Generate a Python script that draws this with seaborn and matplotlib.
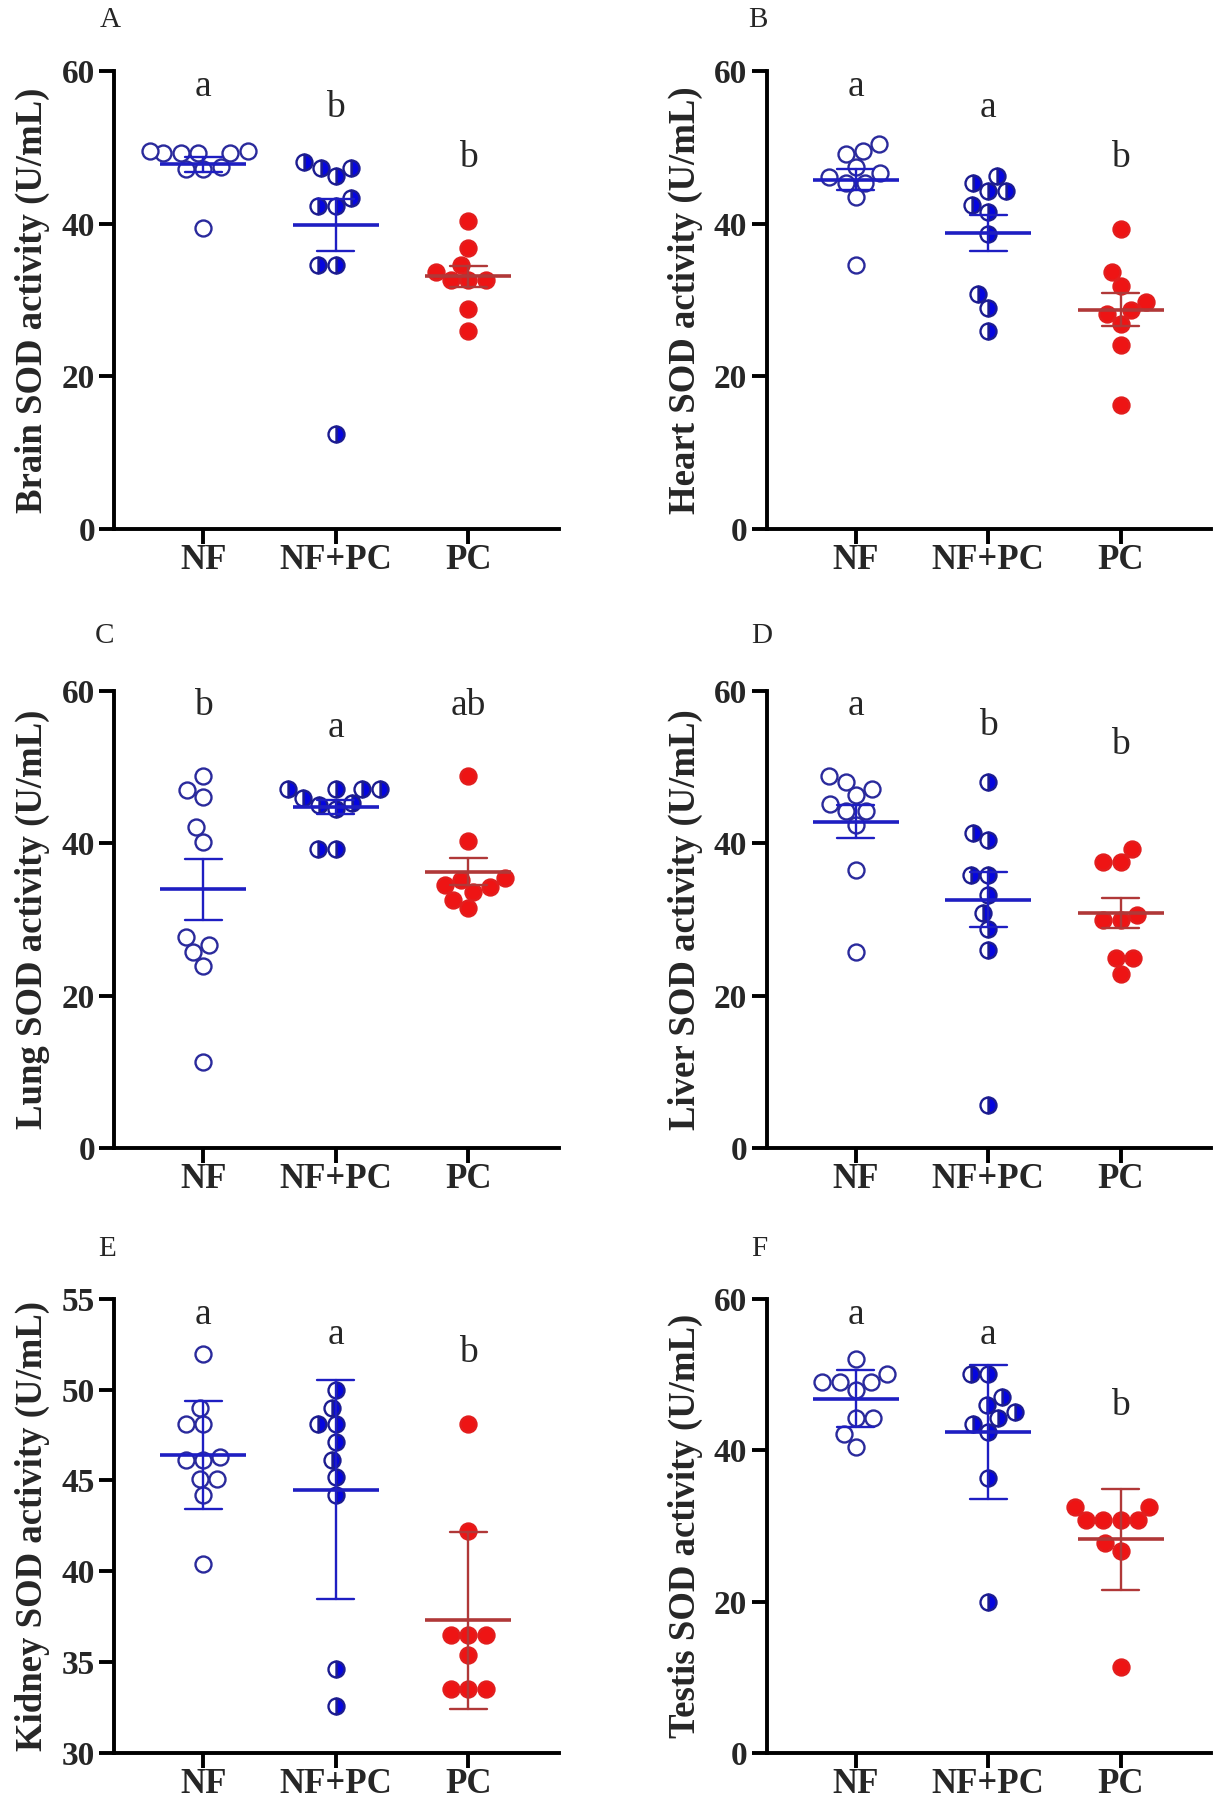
import numpy as np
import pandas as pd
import seaborn as sns
import matplotlib.pyplot as plt

groups = ["NF", "NF+PC", "PC"]

# values (U/mL)
brain_nf = [49.3, 49.3, 49.6, 49.6, 49.3, 49.3, 47.5, 47.2, 47.2, 39.5]
brain_nfpc = [47.3, 47.3, 46.2, 48.1, 43.4, 42.3, 42.3, 34.6, 34.6, 12.4]
brain_pc = [40.4, 36.8, 34.6, 33.7, 32.6, 32.6, 32.6, 28.8, 25.9]

heart_nf = [50.4, 49.2, 49.5, 47.4, 46.6, 46.1, 45.3, 45.3, 43.5, 34.6]
heart_nfpc = [44.3, 45.3, 46.2, 44.3, 41.5, 42.4, 38.7, 30.8, 29.0, 25.9]
heart_pc = [39.3, 33.7, 31.8, 29.7, 28.2, 28.7, 26.9, 24.1, 16.3]

lung_nf = [47.0, 48.9, 46.1, 42.2, 40.2, 26.7, 27.7, 25.7, 23.9, 11.3]
lung_nfpc = [47.1, 47.1, 47.1, 47.1, 46.0, 45.3, 45.0, 44.5, 39.3, 39.3]
lung_pc = [48.9, 40.3, 35.2, 34.3, 33.6, 35.4, 34.5, 31.5, 32.6]

liver_nf = [48.8, 48.1, 47.1, 46.3, 44.2, 44.2, 45.2, 42.4, 36.5, 25.8]
liver_nfpc = [48.1, 41.4, 40.4, 35.8, 35.8, 33.2, 30.9, 28.8, 26.0, 5.6]
liver_pc = [39.3, 37.6, 37.6, 30.6, 29.9, 29.9, 25.0, 25.0, 22.9]

kidney_nf = [51.95, 49.0, 48.1, 48.1, 46.1, 46.1, 46.3, 45.1, 45.1, 44.2, 40.4]
kidney_nfpc = [49.95, 49.0, 48.1, 48.1, 47.1, 46.1, 45.2, 44.2, 34.6, 32.6]
kidney_pc = [48.1, 42.2, 36.5, 36.5, 36.5, 35.4, 33.5, 33.5, 33.5]

testis_nf = [52.0, 49.0, 49.0, 50.0, 49.0, 48.0, 44.2, 44.2, 42.1, 40.4]
testis_nfpc = [50.0, 50.0, 47.0, 45.9, 45.0, 44.2, 43.4, 42.4, 36.3, 20.0]
testis_pc = [32.5, 32.5, 30.8, 30.8, 30.8, 30.8, 27.7, 26.7, 11.3]

organs = ["Brain", "Heart", "Lung", "Liver", "Kidney", "Testis"]
panel_letters = ["A", "B", "C", "D", "E", "F"]
sig_letters = [["a", "b", "b"], ["a", "a", "b"], ["b", "a", "ab"],
               ["a", "b", "b"], ["a", "a", "b"], ["a", "a", "b"]]
sig_heights = [[56.8, 54.0, 47.4], [56.8, 54.0, 47.4], [56.8, 54.0, 56.8],
               [56.8, 54.2, 51.8], [53.6, 52.5, 51.5], [56.7, 54.0, 44.7]]
error_kind = ["se", "se", "se", "se", "sd", "sd"]

data = [
    [brain_nf, brain_nfpc, brain_pc],
    [heart_nf, heart_nfpc, heart_pc],
    [lung_nf, lung_nfpc, lung_pc],
    [liver_nf, liver_nfpc, liver_pc],
    [kidney_nf, kidney_nfpc, kidney_pc],
    [testis_nf, testis_nfpc, testis_pc],
]

sns.set_theme(style="ticks")
plt.rcParams["font.family"] = ["Liberation Serif", "DejaVu Serif"]

blue = "#0505e0"
navy = "#2a2a9c"
red = "#ee1414"
line_colors = {"NF": "#1e1ec2", "NF+PC": "#1e1ec2", "PC": "#b03838"}

fig = plt.figure(figsize=(12.17, 18.10), dpi=100)

# axes boxes (figure fractions) and panel letter spots
col_left = [0.094, 0.630]
row_box = [(0.7077, 0.2530), (0.3657, 0.2525), (0.0315, 0.2510)]
letter_xy = [(0.082, 0.985), (0.615, 0.985), (0.078, 0.645),
             (0.617, 0.645), (0.081, 0.306), (0.617, 0.306)]

axes = []
for k in range(6):
    r, c = divmod(k, 2)
    ax = fig.add_axes([col_left[c], row_box[r][0], 0.365, row_box[r][1]])
    axes.append(ax)
    vals = data[k]
    df = pd.DataFrame({
        "group": np.repeat(groups, [len(v) for v in vals]),
        "value": np.concatenate(vals),
    })
    sns.swarmplot(data=df, x="group", y="value", order=groups, size=12,
                  color="k", warn_thresh=1, ax=ax)
    sns.pointplot(data=df, x="group", y="value", hue="group", order=groups,
                  hue_order=groups, palette=line_colors, errorbar=error_kind[k],
                  capsize=0.28, markers="_", linestyle="none", markersize=62,
                  markeredgewidth=2.6, err_kws={"linewidth": 1.7, "zorder": 4},
                  legend=False, zorder=4, ax=ax)

    if organs[k] == "Kidney":
        ax.set_ylim(30, 55)
        ax.set_yticks([30, 35, 40, 45, 50, 55])
    else:
        ax.set_ylim(0, 60)
        ax.set_yticks([0, 20, 40, 60])
    ax.set_xlim(-0.67, 2.68)

    ax.set_xlabel("")
    ax.set_ylabel(f"{organs[k]} SOD activity (U/mL)", fontsize=26.5,
                  fontweight="bold", labelpad=8)
    for side in ["top", "right"]:
        ax.spines[side].set_visible(False)
    for side in ["left", "bottom"]:
        ax.spines[side].set_linewidth(2.8)
        ax.spines[side].set_color("black")
    ax.tick_params(axis="both", direction="out", length=11, width=2.8,
                   color="black")
    ax.tick_params(axis="y", labelsize=24, pad=3)
    ax.tick_params(axis="x", labelsize=25, pad=0)
    for lab in ax.get_xticklabels() + ax.get_yticklabels():
        lab.set_fontweight("bold")

    for i, g in enumerate(groups):
        ax.text(i, sig_heights[k][i], sig_letters[k][i], ha="center",
                va="baseline", fontsize=27)
    fig.text(letter_xy[k][0], letter_xy[k][1], panel_letters[k],
             fontsize=21, va="baseline", ha="left")

# let seaborn lay out the swarms, then restyle the points
fig.canvas.draw()
for ax in axes:
    swarm = [c for c in ax.collections][:3]
    for g, coll in zip(groups, swarm):
        xy = np.asarray(coll.get_offsets())
        coll.remove()
        if g == "NF":
            style = dict(markerfacecolor="white", markeredgecolor=navy)
        elif g == "NF+PC":
            style = dict(fillstyle="right", markerfacecolor=blue,
                         markerfacecoloralt="white", markeredgecolor="#1c1c90")
        else:
            style = dict(markerfacecolor=red, markeredgecolor="#e21e1e")
        ax.plot(xy[:, 0], xy[:, 1], linestyle="none", marker="o",
                markersize=11.5, markeredgewidth=1.7, zorder=2, **style)

fig.savefig("out.png", dpi=100)
